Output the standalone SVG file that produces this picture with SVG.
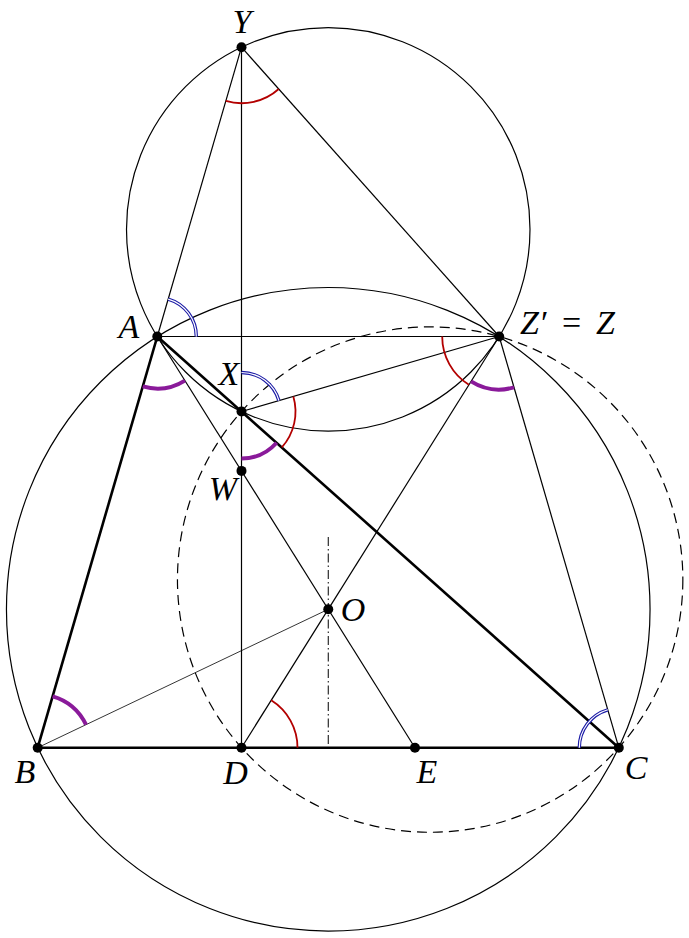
<svg xmlns="http://www.w3.org/2000/svg" width="689" height="938" viewBox="0 0 689 938">
<style>
.thin{fill:none;stroke:#000;stroke-width:1.2}
.hair{fill:none;stroke:#000;stroke-width:0.8}
.thick{fill:none;stroke:#000;stroke-width:2.6}
.dash{fill:none;stroke:#000;stroke-width:1.2;stroke-dasharray:10 6}
.dashdot{fill:none;stroke:#000;stroke-width:1;stroke-dasharray:9 3 1.5 3}
.red{fill:none;stroke:#b30000;stroke-width:1.8}
.purple{fill:none;stroke:#8a1a9a;stroke-width:4}
.blue{fill:none;stroke:#1a1aa6;stroke-width:3.4}
.blueIn{fill:none;stroke:#fff;stroke-width:1.2}
.dot{fill:#000}
text{font-family:"Liberation Serif","DejaVu Serif",serif;font-style:italic;font-size:34px;fill:#000;text-anchor:middle}
</style>
<rect width="689" height="938" fill="#fff"/>
<g id="connectors">
  <circle class="thin" cx="328.25" cy="609.3" r="321.8"/>
  <circle class="thin" cx="328.25" cy="229.35" r="201.75"/>
  <circle class="dash" cx="430.15" cy="579.57" r="252.7"/>
  <line class="dashdot" x1="328.25" y1="537" x2="328.25" y2="747.7"/>
  <line class="thin" x1="241.5" y1="47.2" x2="157.3" y2="336.5"/>
  <line class="thin" x1="241.5" y1="47.2" x2="499.2" y2="336.5"/>
  <line class="thin" x1="241.5" y1="47.2" x2="241.5" y2="747.7"/>
  <line class="thin" x1="157.3" y1="336.5" x2="499.2" y2="336.5"/>
  <line class="thin" x1="157.3" y1="336.5" x2="414.97" y2="747.7"/>
  <line class="thin" x1="499.2" y1="336.5" x2="241.5" y2="747.7"/>
  <line class="thin" x1="499.2" y1="336.5" x2="241.5" y2="411.5"/>
  <line class="thin" x1="499.2" y1="336.5" x2="618.8" y2="747.7"/>
  <line class="hair" x1="37.7" y1="747.7" x2="328.25" y2="609.3"/>
  <line class="thick" x1="157.3" y1="336.5" x2="37.7" y2="747.7"/>
  <line class="thick" x1="157.3" y1="336.5" x2="618.8" y2="747.7"/>
  <line class="thick" x1="37.7" y1="747.7" x2="618.8" y2="747.7"/>
</g>
<g id="angle-marks">
  <path class="red" d="M225.85,100.97 A56,56 0 0 0 278.75,89.02"/>
  <path class="blue" d="M168.2,299.05 A39,39 0 0 1 196.3,336.5"/>
  <path class="blueIn" d="M168.2,299.05 A39,39 0 0 1 196.3,336.5"/>
  <path class="purple" d="M142.78,386.44 A52,52 0 0 0 184.92,380.57"/>
  <path class="blue" d="M241.5,372.5 A39,39 0 0 1 278.94,400.6"/>
  <path class="blueIn" d="M241.5,372.5 A39,39 0 0 1 278.94,400.6"/>
  <path class="red" d="M293.35,396.41 A54,54 0 0 1 281.82,447.42"/>
  <path class="purple" d="M241.5,458.5 A47,47 0 0 0 276.59,442.76"/>
  <path class="red" d="M442.2,336.5 A57,57 0 0 0 468.93,384.8"/>
  <path class="purple" d="M471.06,381.4 A53,53 0 0 0 514.0,387.4"/>
  <path class="purple" d="M52.64,696.32 A53.5,53.5 0 0 1 86.0,724.69"/>
  <path class="red" d="M297.5,747.7 A56,56 0 0 0 271.24,700.25"/>
  <path class="blue" d="M579.3,747.7 A39.5,39.5 0 0 1 607.77,709.77"/>
  <path class="blueIn" d="M579.3,747.7 A39.5,39.5 0 0 1 607.77,709.77"/>
</g>
<g id="node-Y"><circle class="dot" cx="241.5" cy="47.2" r="5"/><text x="242" y="33">Y</text></g>
<g id="node-A"><circle class="dot" cx="157.3" cy="336.5" r="5"/><text x="129" y="338">A</text></g>
<g id="node-Z"><circle class="dot" cx="499.2" cy="336.5" r="5"/><text style="text-anchor:start" x="520" y="334">Z<tspan x="541" y="334" style="font-style:normal">′</tspan><tspan x="562" y="334" style="font-style:normal">=</tspan><tspan x="596" y="334">Z</tspan></text></g>
<g id="node-X"><circle class="dot" cx="241.5" cy="411.5" r="5"/><text x="229" y="385">X</text></g>
<g id="node-W"><circle class="dot" cx="241.5" cy="470.9" r="5"/><text x="223" y="500">W</text></g>
<g id="node-O"><circle class="dot" cx="328.25" cy="609.3" r="5"/><text x="353" y="621">O</text></g>
<g id="node-B"><circle class="dot" cx="37.7" cy="747.7" r="5"/><text x="25" y="783">B</text></g>
<g id="node-D"><circle class="dot" cx="241.5" cy="747.7" r="5"/><text x="235.5" y="784">D</text></g>
<g id="node-E"><circle class="dot" cx="414.97" cy="747.7" r="5"/><text x="427" y="783">E</text></g>
<g id="node-C"><circle class="dot" cx="618.8" cy="747.7" r="5"/><text x="636" y="779">C</text></g>
</svg>
